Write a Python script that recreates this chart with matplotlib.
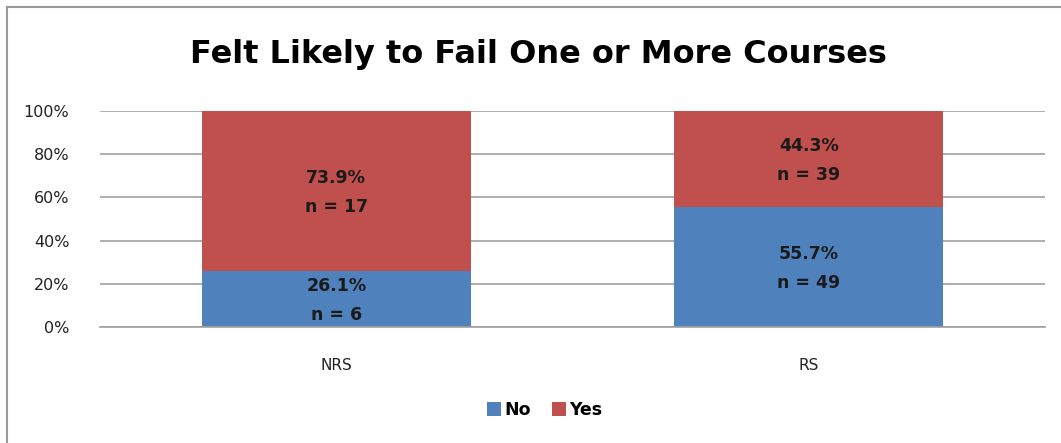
import matplotlib; matplotlib.use('agg')
import matplotlib.pyplot as plt
from matplotlib.lines import Line2D

groups = ['NRS', 'RS']
no_pct = [26.1, 55.7]
yes_pct = [73.9, 44.3]
no_n = [6, 49]
yes_n = [17, 39]

blue = '#4F81BD'
red = '#C0504D'

fig = plt.figure(figsize=(10.61, 4.43), dpi=100)
ax = fig.add_axes([100/1061, 1-327/443, 945/1061, 216/443])

x = range(len(groups))
ax.bar(x, no_pct, width=0.57, color=blue, label='No', zorder=2)
ax.bar(x, yes_pct, bottom=no_pct, width=0.57, color=red, label='Yes', zorder=2)

# Beschriftung in den Balken
for i in x:
    ax.text(i, no_pct[i]/2 - 0.7, '%.1f%%\nn = %d' % (no_pct[i], no_n[i]),
            ha='center', va='center', fontsize=12.5, fontweight='bold',
            color='#1a1a1a', linespacing=1.75, zorder=3)
    ax.text(i, no_pct[i] + yes_pct[i]/2 - 0.7,
            '%.1f%%\nn = %d' % (yes_pct[i], yes_n[i]),
            ha='center', va='center', fontsize=12.5, fontweight='bold',
            color='#1a1a1a', linespacing=1.75, zorder=3)

ax.set_xlim(-0.5, 1.5)
ax.set_ylim(0, 100)
ax.set_yticks([0, 20, 40, 60, 80, 100])
ax.set_yticklabels(['0%', '20%', '40%', '60%', '80%', '100%'])
ax.set_xticks(list(x))
ax.set_xticklabels(groups)
ax.tick_params(axis='y', length=0, pad=22, labelsize=11.5, labelcolor='#222222')
ax.tick_params(axis='x', length=0, pad=22, labelsize=11, labelcolor='#222222')
ax.grid(axis='y', color='#a0a0a0', linewidth=1.2, zorder=0)
for s in ['left', 'right', 'top']:
    ax.spines[s].set_visible(False)
ax.spines['bottom'].set_color('#a0a0a0')
ax.spines['bottom'].set_linewidth(1.2)

fig.text(538/1061, 1-55/443, 'Felt Likely to Fail One or More Courses',
         ha='center', va='center', fontsize=23, fontweight='bold')

fig.legend(loc='center', bbox_to_anchor=(545/1061, 1-410/443), ncol=2,
           frameon=False, handlelength=0.8, handleheight=0.8, handletextpad=0.2,
           columnspacing=1.2, prop={'weight': 'bold', 'size': 12.5})

# Rahmen oben und links
fig.lines.append(Line2D([7/1061, 7/1061], [0, 1-7/443], transform=fig.transFigure,
                        color='#9a9a9a', linewidth=1.5))
fig.lines.append(Line2D([7/1061, 1], [1-7/443, 1-7/443], transform=fig.transFigure,
                        color='#9a9a9a', linewidth=1.5))

plt.savefig('out.png', dpi=100)
